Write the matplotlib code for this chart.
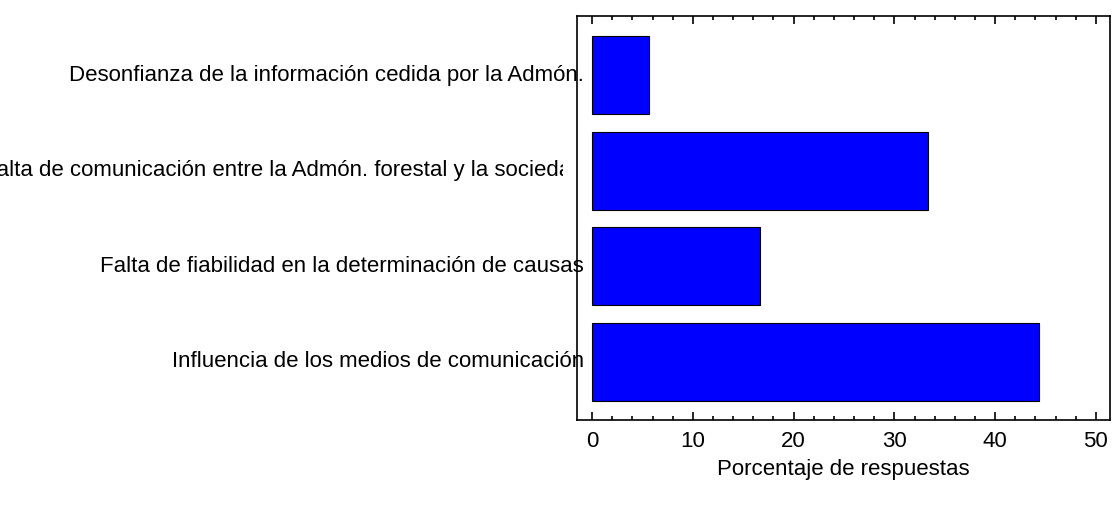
import matplotlib
matplotlib.use('Agg')
import matplotlib.pyplot as plt
from matplotlib.ticker import MultipleLocator
from matplotlib.transforms import Bbox, TransformedBbox, blended_transform_factory

# bottom to top
categorias = [
    "Influencia de los medios de comunicación",
    "Falta de fiabilidad en la determinación de causas",
    "Falta de comunicación entre la Admón. forestal y la sociedad",
    "Desonfianza de la información cedida por la Admón.",
]
porcentajes = [44.4, 16.7, 33.3, 5.6]
x_ticks = [0, 10, 20, 30, 40, 50]

plt.rcParams['font.family'] = ['Liberation Sans', 'DejaVu Sans']
fs = 16

fig = plt.figure(figsize=(11.12, 5.05), dpi=100)
ax = fig.add_axes([577 / 1112, 85 / 505, 533 / 1112, 404 / 505])

pos = list(range(len(categorias)))
ax.barh(pos, porcentajes, height=0.815, color='#0000ff', edgecolor='black', linewidth=0.8)

ax.set_xlim(-1.5, 51.4)
ax.set_ylim(-0.61, 3.62)
ax.set_xticks(x_ticks)
ax.xaxis.set_minor_locator(MultipleLocator(2))
ax.tick_params(axis='x', which='both', direction='in', top=True, bottom=True,
               labelsize=fs, pad=8, width=1.2)
ax.tick_params(axis='x', which='major', length=6)
ax.tick_params(axis='x', which='minor', length=3)
ax.set_yticks([])
for s in ax.spines.values():
    s.set_linewidth(1.2)
ax.set_xlabel("Porcentaje de respuestas", fontsize=fs, labelpad=5)

# category labels, right-aligned just over the left spine
trans = blended_transform_factory(fig.transFigure, ax.transData)
clip = TransformedBbox(Bbox([[0, 0], [563 / 1112, 1]]), fig.transFigure)
for p, lab in zip(pos, categorias):
    t = fig.text(584 / 1112, p, lab, transform=trans, ha='right', va='center',
                 fontsize=fs, zorder=0)
    if len(lab) > 55:
        t.set_clip_box(clip)

fig.savefig('out.png', dpi=100)
